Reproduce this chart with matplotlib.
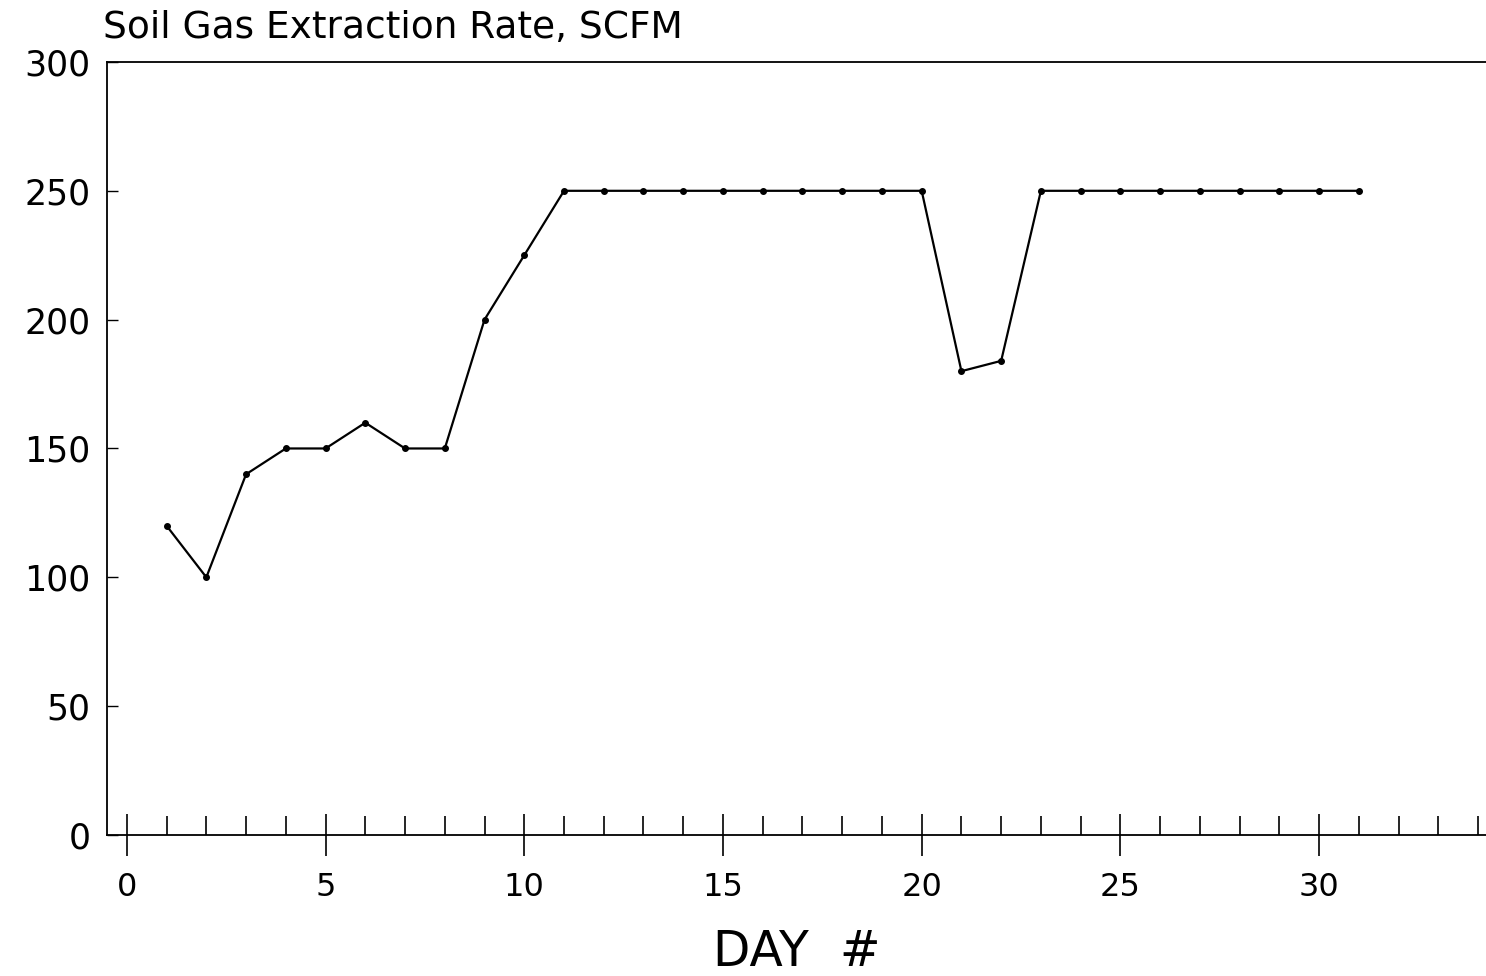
import numpy as np
import matplotlib
matplotlib.use("Agg")
import matplotlib.pyplot as plt
from matplotlib.ticker import MultipleLocator

plt.rcParams['font.family'] = ['DejaVu Sans']

# extraction rate per day
days = [1, 2, 3, 4, 5, 6, 7, 8, 9, 10,
        11, 12, 13, 14, 15, 16, 17, 18, 19, 20,
        21, 22, 23, 24, 25, 26, 27, 28, 29, 30, 31]
rate = [120, 100, 140, 150, 150, 160, 150, 150, 200, 225,
        250, 250, 250, 250, 250, 250, 250, 250, 250, 250,
        180, 184, 250, 250, 250, 250, 250, 250, 250, 250, 250]

fig = plt.figure(figsize=(14.86, 9.76), dpi=100)
ax = fig.add_axes([0.072, 0.1445, 0.928, 0.792])

ax.plot(days, rate, color='black', lw=1.6, marker='o', ms=4,
        mec='black', mfc='black')

ax.set_xlim(-0.5, 34.2)
ax.set_ylim(0, 300)

ax.spines['right'].set_visible(False)
for s in ['left', 'top', 'bottom']:
    ax.spines[s].set_linewidth(1.3)
    ax.spines[s].set_color('black')

ax.set_xticks(np.arange(0, 31, 5))
ax.xaxis.set_minor_locator(MultipleLocator(1))
ax.yaxis.set_major_locator(MultipleLocator(50))
ax.tick_params(axis='x', which='major', direction='inout', length=30, width=1.2,
               labelsize=23, pad=12)
ax.tick_params(axis='x', which='minor', direction='in', length=14, width=1.2)
ax.tick_params(axis='y', which='major', direction='in', length=8, width=1.0,
               labelsize=25, pad=12)

ax.set_xlabel('DAY  #', fontsize=35, labelpad=18)
fig.text(0.069, 0.971, 'Soil Gas Extraction Rate, SCFM', fontsize=27,
         ha='left', va='center')

fig.savefig('out.png', dpi=100)
